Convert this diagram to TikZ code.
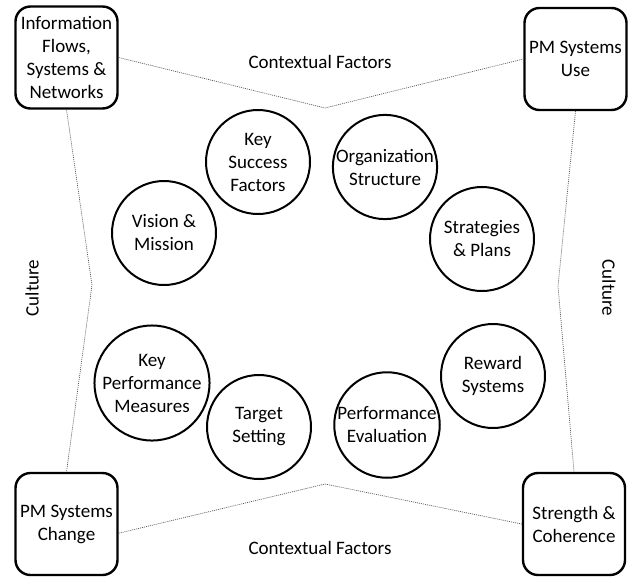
\documentclass[tikz,border=0pt]{standalone}
\usepackage{fontspec}
\setmainfont{Carlito}
\begin{document}
\begin{tikzpicture}[x=1pt,y=-1pt,
  every node/.style={font=\fontsize{19}{23}\selectfont, align=center, inner sep=0pt},
  corner/.style={draw, line width=2.4pt, rounded corners=15pt, minimum width=102pt, minimum height=102pt},
  topic/.style={draw, circle, line width=2pt, minimum size=104pt},
  guide/.style={draw=black!65, line width=0.7pt, dash pattern=on 1pt off 1pt},
  lbl/.style={}
]
\useasboundingbox (0,0) rectangle (628,576);
% corner boxes
\node[corner] (tl) at (66.5,57.5) {Information\\Flows,\\Systems \&\\Networks};
\node[corner] (tr) at (575.5,59) {PM Systems\\Use};
\node[corner] (bl) at (66.5,524) {PM Systems\\Change};
\node[corner] (br) at (574,524) {Strength \&\\Coherence};
% guide bends
\coordinate (topmid) at (325,108);
\coordinate (botmid) at (325,484);
\coordinate (leftmid) at (92,285);
\coordinate (rightmid) at (558,286);
\draw[guide] (tl.east) -- (topmid) -- (tr.west);
\draw[guide] (bl.-10) -- (botmid) -- (br.west);
\draw[guide] (tl.south) -- (leftmid) -- (bl.north);
\draw[guide] (tr.south) -- (rightmid) -- (br.north);
% labels
\node[lbl] (ctop) at (320,62) {Contextual Factors};
\node[lbl] (cbot) at (320,548) {Contextual Factors};
\node[lbl, rotate=90] (cleft) at (32,288) {Culture};
\node[lbl, rotate=-90] (cright) at (609,288) {Culture};
% circles
\node[topic] (ksf) at (258,162) {Key\\Success\\Factors};
\node[topic] (vm) at (164,233) {Vision \&\\Mission};
\node[topic] (os) at (385,167) {Organization\\Structure};
\node[topic] (sp) at (482,239) {Strategies\\\& Plans};
\node[topic] (kpm) at (152,383) {Key\\Performance\\Measures};
\node[topic] (ts) at (259,427) {Target\\Setting};
\node[topic] (pe) at (387,425) {Performance\\Evaluation};
\node[topic] (rs) at (493,376) {Reward\\Systems};
\end{tikzpicture}
\end{document}
